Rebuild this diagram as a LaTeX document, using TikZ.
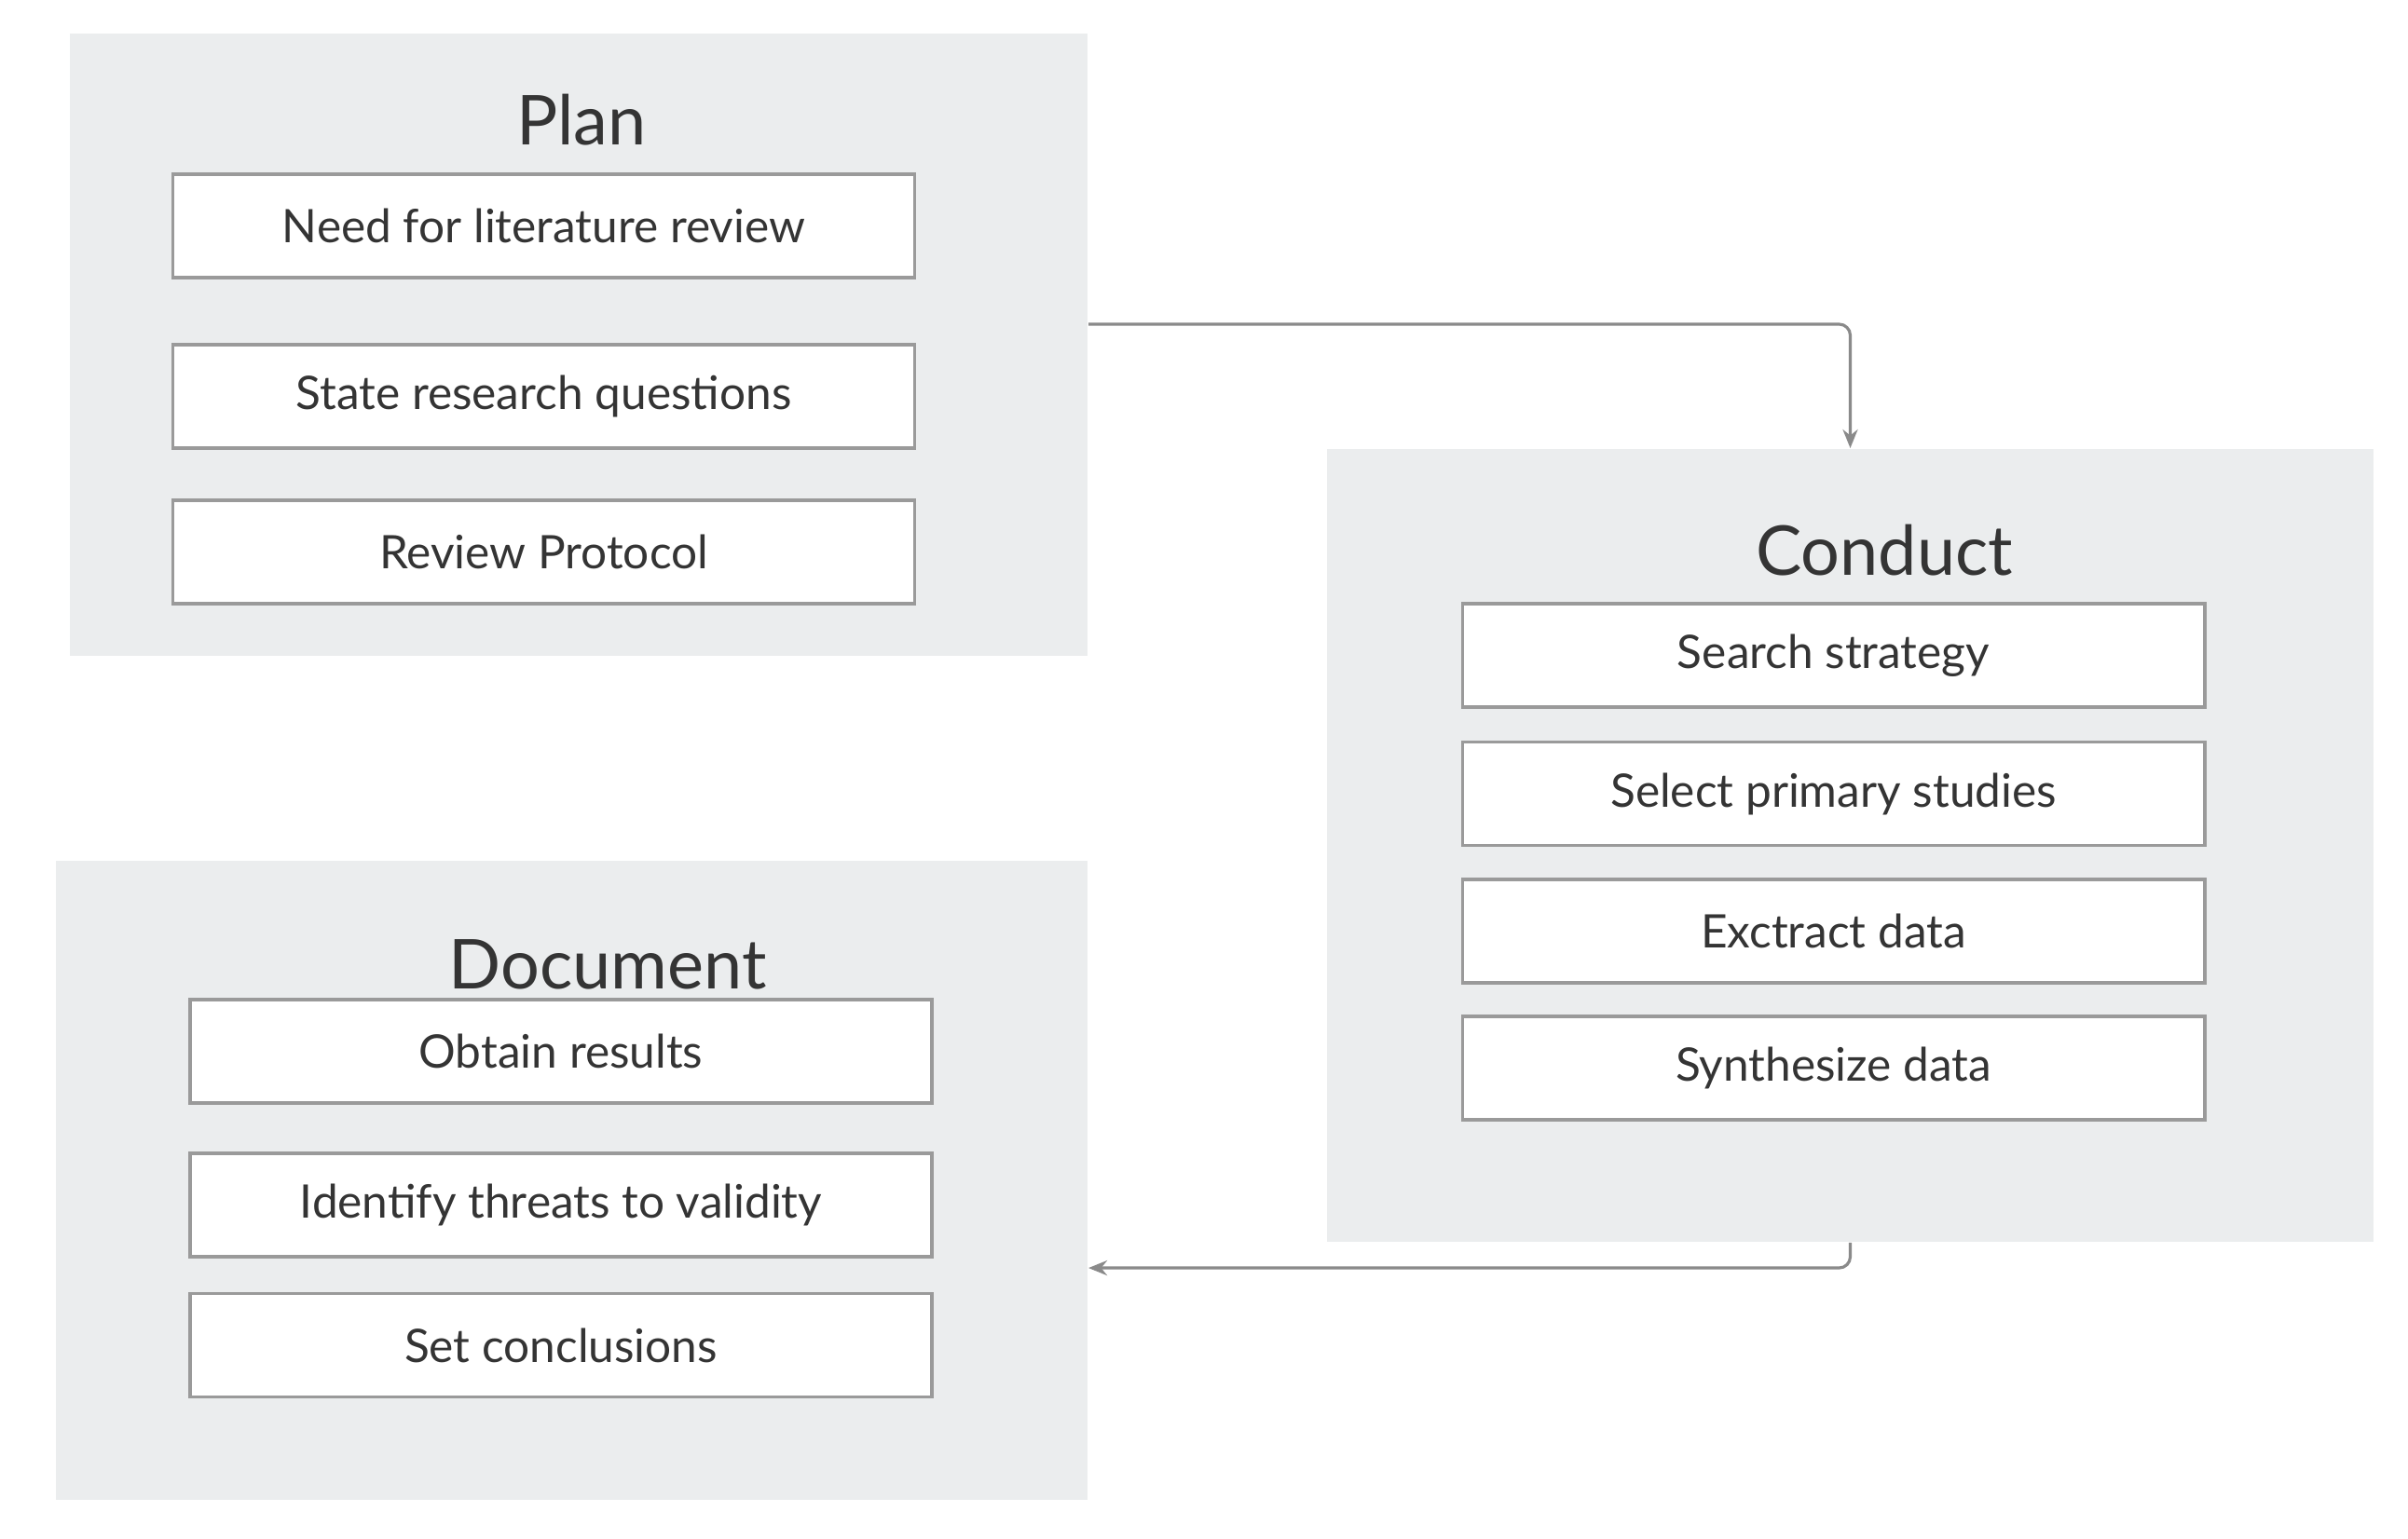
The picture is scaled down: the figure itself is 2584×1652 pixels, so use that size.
\documentclass[tikz,border=0pt]{standalone}
\usepackage{fontspec}
\setmainfont{Lato}
\usetikzlibrary{arrows.meta}
\definecolor{panelgray}{HTML}{EBEDEE}
\definecolor{boxline}{HTML}{9A9A9A}
\definecolor{txt}{HTML}{343434}
\definecolor{arrowgray}{HTML}{8A8A8A}
\begin{document}
\begin{tikzpicture}[x=0.01cm,y=-0.01cm,
  panel/.style={fill=panelgray,draw=none,inner sep=0pt},
  stepbox/.style={draw=boxline,fill=white,line width=1pt,minimum width=7.96cm,minimum height=1.11cm,inner sep=0pt,font=\fontsize{14.1}{16}\selectfont,text=txt},
  ttl/.style={font=\fontsize{21}{24}\selectfont,text=txt,inner sep=0pt},
  flow/.style={draw=arrowgray,line width=0.9pt,rounded corners=0.12cm,-{Stealth[length=0.2cm,width=0.16cm]}}]
\useasboundingbox (0,0) rectangle (2584,1652);
\fill[white] (0,0) rectangle (2584,1652);
% panels
\node[panel,minimum width=10.92cm,minimum height=6.68cm] (plan) at (621,370) {};
\node[panel,minimum width=11.23cm,minimum height=8.51cm] (conduct) at (1985.5,907.5) {};
\node[panel,minimum width=11.07cm,minimum height=6.86cm] (document) at (613.5,1267) {};
% titles
\node[ttl] (plantitle) at (624,129) {Plan};
\node[ttl] (conducttitle) at (2022,591) {Conduct};
\node[ttl] (doctitle) at (652,1035) {Document};
% plan boxes
\node[stepbox] (p1) at (583.5,242.5) {Need for literature review};
\node[stepbox] (p2) at (583.5,425.5) {State research questions};
\node[stepbox] (p3) at (583.5,592.5) {Review Protocol};
% conduct boxes
\node[stepbox] (c1) at (1967.5,703.5) {Search strategy};
\node[stepbox] (c2) at (1967.5,852) {Select primary studies};
\node[stepbox] (c3) at (1967.5,999.5) {Exctract data};
\node[stepbox] (c4) at (1967.5,1146.5) {Synthesize data};
% document boxes
\node[stepbox] (d1) at (602,1128.5) {Obtain results};
\node[stepbox] (d2) at (602,1293.5) {Identify threats to validity};
\node[stepbox] (d3) at (602,1444) {Set conclusions};
% connectors
\draw[flow] ([yshift=0.22cm]plan.east) -| (conduct.north);
\draw[flow] (conduct.south) |- ([yshift=-0.94cm]document.east);
\end{tikzpicture}
\end{document}
